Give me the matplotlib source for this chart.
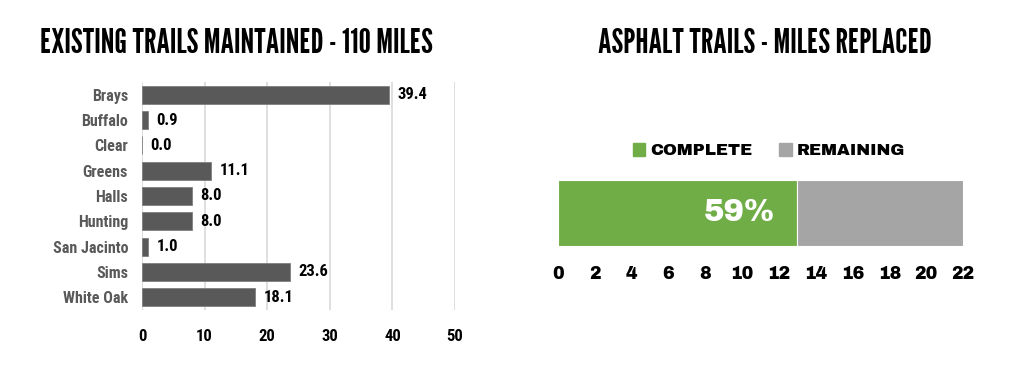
import matplotlib
matplotlib.use("Agg")
import matplotlib.pyplot as plt
from matplotlib.patches import Patch

# data
trails = ["Brays", "Buffalo", "Clear", "Greens", "Halls", "Hunting",
          "San Jacinto", "Sims", "White Oak"]
miles = [39.4, 0.9, 0.0, 11.1, 8.0, 8.0, 1.0, 23.6, 18.1]

asphalt_labels = ["COMPLETE", "REMAINING"]
asphalt_miles = [13.0, 9.0]
asphalt_pct = "59%"

TITLE = ["League Gothic", "Bebas Neue", "DejaVu Sans"]
NARROW = ["Roboto Condensed", "Barlow Condensed", "DejaVu Sans"]
WIDE = ["Archivo Black", "DejaVu Sans"]

fig = plt.figure(figsize=(10.25, 3.68), dpi=100)

# titles
fig.text(0.231, 0.882, "EXISTING TRAILS MAINTAINED - 110 MILES", ha="center", va="center",
         fontsize=25, fontweight="bold", family=TITLE)
fig.text(0.746, 0.882, "ASPHALT TRAILS - MILES REPLACED", ha="center", va="center",
         fontsize=25, fontweight="bold", family=TITLE)

# left chart
ax = fig.add_axes([0.1385, 0.158, 0.3055, 0.619])
ypos = list(range(len(trails)))
bars = ax.barh(ypos, miles, height=0.71, color="#595959", edgecolor="#7f7f7f", linewidth=0.6, zorder=3)
ax.set_xlim(0, 50)
ax.set_ylim(len(trails) - 0.5, -0.5)
ax.set_xticks([0, 10, 20, 30, 40, 50])
ax.set_yticks(ypos)
ax.set_yticklabels(trails, color="#595959", fontsize=11.5, fontweight="bold", family=NARROW)
for lbl in ax.get_xticklabels():
    lbl.set_fontsize(12)
    lbl.set_fontweight("bold")
    lbl.set_family(NARROW)
ax.tick_params(axis="y", length=0, pad=10)
ax.tick_params(axis="x", length=0, pad=14)
ax.grid(axis="x", color="#d9d9d9", linewidth=1.2, zorder=0)
for s in ax.spines.values():
    s.set_visible(False)
for b, v in zip(bars, miles):
    ax.annotate(f"{v:.1f}", (b.get_width(), b.get_y() + b.get_height() / 2),
                xytext=(6, 0), textcoords="offset points", ha="left", va="center",
                fontsize=12, fontweight="bold", family=NARROW, color="black")

# right chart
ax2 = fig.add_axes([0.544, 0.307, 0.3955, 0.231])
colors = ["#70ad47", "#a5a5a5"]
left = 0
for val, c in zip(asphalt_miles, colors):
    ax2.barh(0, val, left=left, height=0.776, color=c, edgecolor="white", linewidth=0.8)
    left += val
ax2.set_xlim(0, 22)
ax2.set_ylim(-0.5, 0.5)
ax2.set_xticks(range(0, 23, 2))
ax2.set_yticks([])
for lbl in ax2.get_xticklabels():
    lbl.set_fontsize(12.5)
    lbl.set_fontweight("bold")
    lbl.set_family(WIDE)
ax2.tick_params(axis="x", length=0, pad=8)
for s in ax2.spines.values():
    s.set_visible(False)
ax2.annotate(asphalt_pct, (asphalt_miles[0], 0), xytext=(-16, 0), textcoords="offset points",
             ha="right", va="center", fontsize=22, fontweight="bold", color="white", family=WIDE)

handles = [Patch(color=c) for c in colors]
fig.legend(handles, asphalt_labels, loc="center", bbox_to_anchor=(0.750, 0.590), ncol=2,
           frameon=False, handlelength=0.75, handleheight=0.75, handletextpad=0.3,
           columnspacing=1.6, prop={"family": WIDE, "weight": "bold", "size": 12})

fig.savefig("out.png", dpi=100)
